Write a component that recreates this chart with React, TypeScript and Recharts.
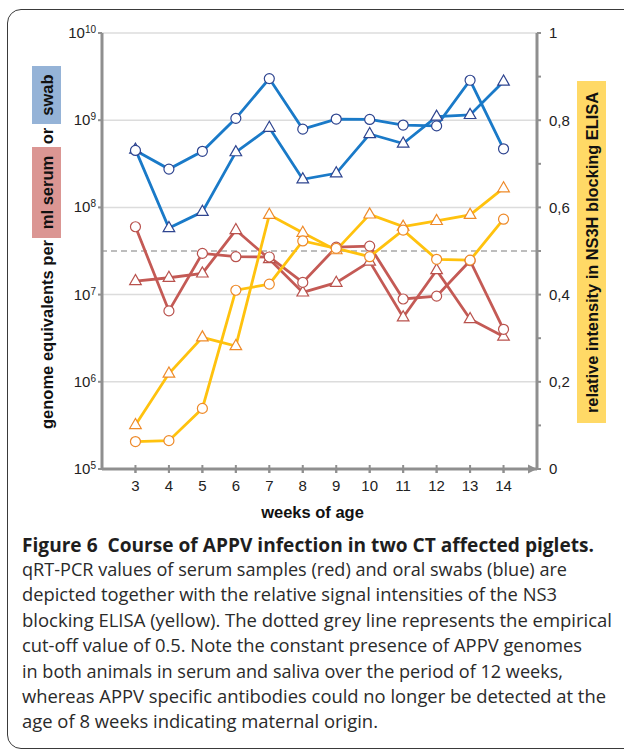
import {
  ComposedChart,
  Line,
  XAxis,
  YAxis,
  CartesianGrid,
  ReferenceLine,
  ReferenceDot,
} from "recharts";

const weeks = [3, 4, 5, 6, 7, 8, 9, 10, 11, 12, 13, 14];

// genome equivalents, oral swabs (blue)
const swabCircle = [4.5e8, 2.75e8, 4.4e8, 1.05e9, 3.0e9, 7.9e8, 1.03e9, 1.02e9, 8.8e8, 8.6e8, 2.87e9, 4.7e8];
const swabTriangle = [4.6e8, 5.8e7, 8.9e7, 4.3e8, 8.2e8, 2.1e8, 2.46e8, 6.95e8, 5.4e8, 1.1e9, 1.15e9, 2.78e9];

// genome equivalents, serum (red)
const serumCircle = [6.0e7, 6.5e6, 2.97e7, 2.72e7, 2.7e7, 1.38e7, 3.5e7, 3.6e7, 8.9e6, 9.6e6, 2.45e7, 4.0e6];
const serumTriangle = [1.43e7, 1.56e7, 1.75e7, 5.5e7, 2.56e7, 1.06e7, 1.37e7, 2.39e7, 5.5e6, 1.91e7, 5.25e6, 3.3e6];

// relative intensity NS3H blocking ELISA (yellow)
const elisaCircle = [0.063, 0.065, 0.139, 0.41, 0.424, 0.523, 0.506, 0.487, 0.548, 0.481, 0.479, 0.573];
const elisaTriangle = [0.101, 0.219, 0.302, 0.282, 0.583, 0.542, 0.502, 0.584, 0.556, 0.569, 0.583, 0.644];

const logTicks = [1e5, 1e6, 1e7, 1e8, 1e9, 1e10];
const elisaTicks = [0, 0.1, 0.2, 0.3, 0.4, 0.5, 0.6, 0.7, 0.8, 0.9, 1];
const cutOff = 0.5;

const captionTitle = "Figure 6  Course of APPV infection in two CT affected piglets.";
const captionLines = [
  "qRT-PCR values of serum samples (red) and oral swabs (blue) are",
  "depicted together with the relative signal intensities of the NS3",
  "blocking ELISA (yellow). The dotted grey line represents the empirical",
  "cut-off value of 0.5. Note the constant presence of APPV genomes",
  "in both animals in serum and saliva over the period of 12 weeks,",
  "whereas APPV specific antibodies could no longer be detected at the",
  "age of 8 weeks indicating maternal origin.",
];
const captionWidths = [545, 535, 590, 560, 541, 584, 356];

const data = weeks.map((w, i) => ({
  week: w,
  swabC: swabCircle[i],
  swabT: swabTriangle[i],
  serumC: serumCircle[i],
  serumT: serumTriangle[i],
  elisaC: elisaCircle[i],
  elisaT: elisaTriangle[i],
}));

const AXIS = "#8f8f8f";
const FONT = "'Liberation Sans', Arial, sans-serif";
const BLUE = "#1a7ac8";
const RED = "#c45a55";
const YELLOW = "#ffc20e";

function circleDot(stroke: string) {
  return (p: any) => (
    <circle
      key={`c-${p.dataKey}-${p.index}`}
      cx={p.cx}
      cy={p.cy}
      r={5}
      fill="#fff"
      stroke={stroke}
      strokeWidth={1.2}
    />
  );
}

function triangleDot(stroke: string) {
  return (p: any) => (
    <path
      key={`t-${p.dataKey}-${p.index}`}
      d={`M${p.cx},${p.cy - 6.5}L${p.cx - 5.8},${p.cy + 3.6}L${p.cx + 5.8},${p.cy + 3.6}Z`}
      fill="#fff"
      stroke={stroke}
      strokeWidth={1.2}
    />
  );
}

function PowerTick({ x, y, payload }: any) {
  const exp = Math.round(Math.log10(payload.value));
  return (
    <text x={x} y={y} textAnchor="end" fontFamily={FONT} fontSize={15} fill="#222">
      <tspan dy={5}>10</tspan>
      <tspan dy={-5} fontSize={10}>
        {exp}
      </tspan>
    </text>
  );
}

function WeekTick({ x, y, payload }: any) {
  return (
    <g>
      <line x1={x} x2={x} y1={y - 14} y2={y - 6} stroke={AXIS} strokeWidth={2} />
      <text x={x} y={y + 12} textAnchor="middle" fontFamily={FONT} fontSize={15} fill="#222">
        {payload.value}
      </text>
    </g>
  );
}

const arrowHead = (p: any) => (
  <path d={`M${p.cx},${p.cy}L${p.cx - 9},${p.cy - 4.5}L${p.cx - 9},${p.cy + 4.5}Z`} fill={AXIS} />
);

export default function App() {
  return (
    <div
      style={{
        position: "absolute",
        left: 0,
        top: 0,
        width: 624,
        height: 751,
        overflow: "hidden",
        background: "#fff",
      }}
    >
      <div
        style={{
          position: "absolute",
          left: 7,
          top: 9,
          width: 650,
          height: 738,
          border: "1.2px solid #3a3a3a",
          borderRadius: 14,
        }}
      />
      <div style={{ position: "absolute", left: 0, top: 0 }}>
        <ComposedChart
          width={624}
          height={520}
          data={data}
          margin={{ top: 33, right: 0, bottom: 0, left: 0 }}
        >
          <CartesianGrid yAxisId="l" vertical={false} stroke="#dcdcdc" strokeWidth={1.5} />
          <XAxis
            dataKey="week"
            type="number"
            domain={[2, 15]}
            ticks={weeks}
            height={51}
            axisLine={{ stroke: AXIS, strokeWidth: 3 }}
            tickLine={{ stroke: AXIS, strokeWidth: 2 }}
            tickSize={4}
            tickMargin={6}
            tick={<WeekTick />}
            interval={0}
          />
          <YAxis
            yAxisId="l"
            scale="log"
            domain={[1e5, 1e10]}
            ticks={logTicks}
            allowDataOverflow
            width={102}
            axisLine={{ stroke: AXIS, strokeWidth: 3 }}
            tickLine={{ stroke: AXIS, strokeWidth: 2 }}
            tickSize={4}
            tickMargin={2}
            tick={<PowerTick />}
            interval={0}
          />
          <YAxis
            yAxisId="r"
            orientation="right"
            domain={[0, 1]}
            ticks={elisaTicks}
            width={87}
            axisLine={{ stroke: AXIS, strokeWidth: 3 }}
            tickLine={{ stroke: AXIS, strokeWidth: 2 }}
            tickSize={4}
            tickMargin={8}
            interval={0}
            tick={{ fontFamily: FONT, fontSize: 15, fill: "#222" }}
            tickFormatter={(v: number) =>
              Math.round(v * 10) % 2 === 0 ? String(v).replace(".", ",") : ""
            }
          />
          <ReferenceLine
            yAxisId="r"
            y={cutOff}
            stroke="#a8a8a8"
            strokeWidth={1.6}
            strokeDasharray="6 4"
          />
          <ReferenceDot yAxisId="r" x={15} y={0} r={0} shape={arrowHead} ifOverflow="visible" />

          <Line yAxisId="l" dataKey="serumT" stroke={RED} strokeWidth={2.8} dot={triangleDot("#b9524d")} activeDot={false} isAnimationActive={false} />
          <Line yAxisId="l" dataKey="serumC" stroke={RED} strokeWidth={2.8} dot={circleDot("#b9524d")} activeDot={false} isAnimationActive={false} />
          <Line yAxisId="r" dataKey="elisaT" stroke={YELLOW} strokeWidth={2.8} dot={triangleDot("#ee8a2a")} activeDot={false} isAnimationActive={false} />
          <Line yAxisId="r" dataKey="elisaC" stroke={YELLOW} strokeWidth={2.8} dot={circleDot("#ee8a2a")} activeDot={false} isAnimationActive={false} />
          <Line yAxisId="l" dataKey="swabT" stroke={BLUE} strokeWidth={2.8} dot={triangleDot("#2f4590")} activeDot={false} isAnimationActive={false} />
          <Line yAxisId="l" dataKey="swabC" stroke={BLUE} strokeWidth={2.8} dot={circleDot("#2f4590")} activeDot={false} isAnimationActive={false} />
        </ComposedChart>
      </div>

      <svg
        width={624}
        height={751}
        style={{ position: "absolute", left: 0, top: 0, pointerEvents: "none" }}
      >
        {/* left axis title */}
        <rect x={32} y={66} width={29} height={58} fill="#95b3d7" />
        <rect x={32} y={147} width={29} height={91} fill="#db9693" />
        <g fontFamily={FONT} fontWeight="bold" fontSize={16.5} fill="#111">
          <text transform="translate(47,95) rotate(-90)" textAnchor="middle" dominantBaseline="central">swab</text>
          <text transform="translate(47,136) rotate(-90)" textAnchor="middle" dominantBaseline="central">or</text>
          <text transform="translate(47,192.5) rotate(-90)" textAnchor="middle" dominantBaseline="central">ml serum</text>
          <text transform="translate(47,334.5) rotate(-90)" textAnchor="middle" dominantBaseline="central" textLength={189} lengthAdjust="spacingAndGlyphs">genome equivalents per</text>
        </g>

        {/* right axis title */}
        <rect x={577} y={81} width={29} height={342} fill="#ffd966" />
        <text
          transform="translate(591.5,252.5) rotate(-90)"
          textAnchor="middle"
          dominantBaseline="central"
          fontFamily={FONT}
          fontWeight="bold"
          fontSize={16.5}
          fill="#111"
          textLength={321}
          lengthAdjust="spacingAndGlyphs"
        >
          relative intensity in NS3H blocking ELISA
        </text>

        {/* x axis title */}
        <text x={312.5} y={518} textAnchor="middle" fontFamily={FONT} fontWeight="bold" fontSize={16.5} fill="#111">
          weeks of age
        </text>

        {/* caption */}
        <text
          x={22}
          y={552}
          fontFamily="'Open Sans', sans-serif"
          fontWeight="bold"
          fontSize={19}
          fill="#1e1e1e"
          textLength={572}
          lengthAdjust="spacingAndGlyphs"
          style={{ whiteSpace: "pre" }}
        >
          {captionTitle}
        </text>
        {captionLines.map((line, i) => (
          <text
            key={i}
            x={22}
            y={576 + i * 25.4}
            fontFamily="'Open Sans', sans-serif"
            fontSize={17.5}
            fill="#2a2a2a"
            textLength={captionWidths[i]}
            lengthAdjust="spacingAndGlyphs"
          >
            {line}
          </text>
        ))}
      </svg>
    </div>
  );
}
